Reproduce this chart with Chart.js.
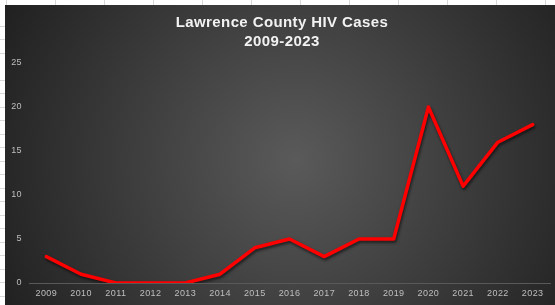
<!DOCTYPE html>
<html>
<head>
<meta charset="utf-8">
<script src="https://cdn.jsdelivr.net/npm/chart.js@4"></script>
<style>
    html, body { margin: 0; padding: 0; }
    body {
        width: 555px; height: 305px; overflow: hidden; position: relative;
        background-color: #fff;
        /* セルの罫線 */
        background-image:
            repeating-linear-gradient(to right, transparent 0 6px, #d9d9d9 6px 7px, transparent 7px 49px),
            repeating-linear-gradient(to bottom, transparent 0 12.5px, #d9d9d9 12.5px 13.5px);
    }
    #box { position: absolute; left: 5px; top: 5px; width: 550px; height: 300px; }
</style>
</head>
<body>
<div id="box"><canvas id="chart" width="550" height="300"></canvas></div>
<script>
// データ
const years = ['2009', '2010', '2011', '2012', '2013', '2014', '2015', '2016',
               '2017', '2018', '2019', '2020', '2021', '2022', '2023'];
const cases = [3, 1, 0, 0, 0, 1, 4, 5, 3, 5, 5, 20, 11, 16, 18];
const titleLines = ['Lawrence County HIV Cases', '2009-2023'];

// 背景のグラデーション
const bgPlugin = {
    id: 'bg',
    beforeDraw(chart) {
        const ctx = chart.ctx;
        const w = chart.width, h = chart.height;
        const g = ctx.createRadialGradient(290, 155, 0, 290, 155, 330);
        g.addColorStop(0, '#5a5a5a');
        g.addColorStop(1, '#202020');
        ctx.save();
        ctx.fillStyle = g;
        ctx.fillRect(0, 0, w, h);
        ctx.restore();
        ctx.letterSpacing = '0.4px';
    },
    // 線に影をつける
    beforeDatasetsDraw(chart) {
        const ctx = chart.ctx;
        ctx.save();
        ctx.shadowColor = 'rgba(0,0,0,0.6)';
        ctx.shadowBlur = 3;
        ctx.shadowOffsetX = 1;
        ctx.shadowOffsetY = 2;
    },
    afterDatasetsDraw(chart) {
        chart.ctx.restore();
    }
};

new Chart(document.getElementById('chart'), {
    type: 'line',
    data: {
        labels: years,
        datasets: [{
            data: cases,
            borderColor: '#ff0000',
            borderWidth: 3.5,
            pointRadius: 0,
            tension: 0,
            borderJoinStyle: 'round',
            borderCapStyle: 'round'
        }]
    },
    options: {
        responsive: false,
        animation: false,
        layout: { padding: { left: 4, right: 0, top: 0, bottom: 0 } },
        plugins: {
            legend: { display: false },
            tooltip: { enabled: false },
            title: {
                display: true,
                text: titleLines,
                color: '#f2f2f2',
                font: { family: 'Liberation Sans', size: 15, weight: 'bold', lineHeight: 1.3 },
                padding: { top: 8, bottom: 11 }
            }
        },
        scales: {
            x: {
                offset: true,
                grid: { display: false, drawTicks: false },
                border: { display: true, color: '#595959', width: 1 },
                ticks: { color: '#bfbfbf', font: { family: 'Liberation Sans', size: 9 }, padding: 5, maxRotation: 0 },
                afterFit(s) { s.height = 22; }
            },
            y: {
                min: 0,
                max: 25,
                grid: { display: false, drawTicks: false },
                border: { display: false },
                ticks: { stepSize: 5, color: '#bfbfbf', font: { family: 'Liberation Sans', size: 9 }, padding: 7 },
                afterFit(s) { s.width = 20; }
            },
            // 右側の余白用（何も描かない）
            y2: {
                position: 'right',
                min: 0,
                max: 25,
                grid: { display: false, drawTicks: false },
                border: { display: false },
                ticks: { display: false },
                afterFit(s) { s.width = 5; }
            }
        }
    },
    plugins: [bgPlugin]
});
</script>
</body>
</html>
